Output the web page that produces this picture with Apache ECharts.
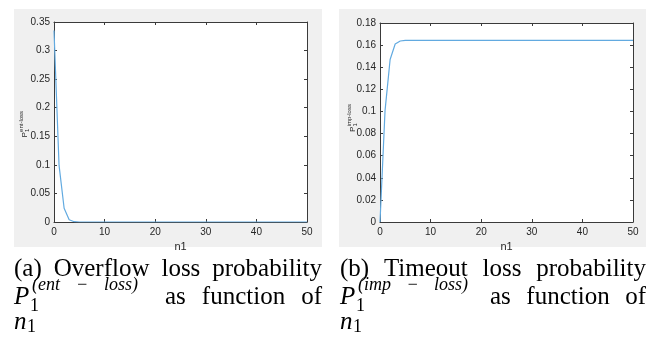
<!DOCTYPE html>
<html lang="en">
<head>
<meta charset="UTF-8">
<title>Loss probability</title>
<script src="https://cdn.jsdelivr.net/npm/echarts@6/dist/echarts.min.js"></script>
<style>
    *{margin:0;padding:0;}
    html,body{width:100%;height:100%;overflow:hidden;background:#fff;}
    .container{width:646px;height:338px;}
</style>
</head>
<body>
<div class="container"></div>
<script>
    // n1 = 0..50
    let n1 = [0,1,2,3,4,5,6,7,8,9,10,11,12,13,14,15,16,17,18,19,20,21,22,23,24,25,
              26,27,28,29,30,31,32,33,34,35,36,37,38,39,40,41,42,43,44,45,46,47,48,49,50];
    // overflow loss P1^(ent-loss)
    let entLoss = [0.335,0.099,0.024,0.004,0.0005,0,0,0,0,0,0,0,0,0,0,0,0,0,0,0,0,0,0,0,0,0,
                   0,0,0,0,0,0,0,0,0,0,0,0,0,0,0,0,0,0,0,0,0,0,0,0,0];
    // timeout loss P1^(imp-loss)
    let impLoss = [0,0.101,0.147,0.161,0.1637,0.1642,0.1643,0.1643,0.1643,0.1643,0.1643,0.1643,0.1643,
                   0.1643,0.1643,0.1643,0.1643,0.1643,0.1643,0.1643,0.1643,0.1643,0.1643,0.1643,0.1643,0.1643,
                   0.1643,0.1643,0.1643,0.1643,0.1643,0.1643,0.1643,0.1643,0.1643,0.1643,0.1643,0.1643,0.1643,
                   0.1643,0.1643,0.1643,0.1643,0.1643,0.1643,0.1643,0.1643,0.1643,0.1643,0.1643,0.1643];
    let xTicks = [0,10,20,30,40,50];
    let yTicksA = [0,0.05,0.1,0.15,0.2,0.25,0.3,0.35];
    let yTicksB = [0,0.02,0.04,0.06,0.08,0.1,0.12,0.14,0.16,0.18];

    window.onload = function () {
        let container = document.querySelector('.container');
        let chart = echarts.init(container, null, {renderer: 'canvas'});

        const axisColor = '#3a3a3a';
        const lineColor = '#62aae0';
        const serif = "'Liberation Serif', 'Times New Roman', serif";

        let ctx = document.createElement('canvas').getContext('2d');
        function measure(text, size, style) {
            ctx.font = (style || 'normal') + ' ' + size + 'px ' + serif;
            return ctx.measureText(text).width;
        }
        function txt(text, x, y, size, style, align) {
            return {
                type: 'text', x: x, y: y, z: 10,
                style: {
                    text: text, fill: '#000',
                    fontSize: size, fontFamily: serif, fontStyle: style || 'normal',
                    align: align || 'left', textAlign: align || 'left',
                    verticalAlign: 'middle', textVerticalAlign: 'middle'
                }
            };
        }
        // spread words between x0 and x1 like justified text
        function justify(words, x0, x1, y, size, style) {
            let widths = words.map(w => measure(w, size, style));
            let total = widths.reduce((a, b) => a + b, 0);
            let gap = (x1 - x0 - total) / (words.length - 1);
            let out = [], x = x0;
            words.forEach((w, i) => {
                out.push(txt(w, x, y, size, style));
                x += widths[i] + gap;
            });
            return out;
        }

        function xAxes(gi) {
            let base = {
                type: 'value', gridIndex: gi,
                min: xTicks[0], max: xTicks[xTicks.length - 1], interval: xTicks[1] - xTicks[0],
                splitLine: {show: false},
                axisLine: {show: true, onZero: false, lineStyle: {color: axisColor, width: 1}},
                axisTick: {show: true, inside: true, length: 3, lineStyle: {color: axisColor}}
            };
            return [
                Object.assign({}, base, {
                    position: 'bottom',
                    axisLabel: {color: '#262626', fontSize: 10, fontFamily: 'Liberation Sans', margin: 5},
                    name: 'n1', nameLocation: 'middle', nameGap: 16,
                    nameTextStyle: {color: '#262626', fontSize: 11, fontFamily: 'Liberation Sans'}
                }),
                Object.assign({}, base, {position: 'top', axisLabel: {show: false}})
            ];
        }
        function yAxes(gi, ticks) {
            let base = {
                type: 'value', gridIndex: gi,
                min: ticks[0], max: ticks[ticks.length - 1], interval: ticks[1] - ticks[0],
                splitLine: {show: false},
                axisLine: {show: true, onZero: false, lineStyle: {color: axisColor, width: 1}},
                axisTick: {show: true, inside: true, length: 3, lineStyle: {color: axisColor}}
            };
            return [
                Object.assign({}, base, {
                    position: 'left',
                    axisLabel: {color: '#262626', fontSize: 10, fontFamily: 'Liberation Sans', margin: 4}
                }),
                Object.assign({}, base, {position: 'right', axisLabel: {show: false}})
            ];
        }

        // rotated y axis name: P with superscript tag and subscript 1
        function yName(x, y, tag) {
            return {
                type: 'group', x: x, y: y, rotation: Math.PI / 2, z: 10,
                children: [
                    {type: 'text', x: 0, y: 0, style: {text: 'P', fill: '#262626', fontSize: 8,
                        fontFamily: 'Liberation Sans', align: 'left', verticalAlign: 'middle'}},
                    {type: 'text', x: 5.6, y: -3, style: {text: tag, fill: '#262626', fontSize: 6,
                        fontFamily: 'Liberation Sans', align: 'left', verticalAlign: 'middle'}},
                    {type: 'text', x: 5.6, y: 3, style: {text: '1', fill: '#262626', fontSize: 6,
                        fontFamily: 'Liberation Sans', align: 'left', verticalAlign: 'middle'}}
                ]
            };
        }

        const fs = 25, fsSmall = 18;
        let graphic = [
            {type: 'rect', shape: {x: 14, y: 9, width: 308, height: 238}, style: {fill: '#f0f0f0'}, z: -1},
            {type: 'rect', shape: {x: 339, y: 9, width: 307, height: 238}, style: {fill: '#f0f0f0'}, z: -1},
            yName(24.5, 137.5, 'ent-loss'),
            yName(352.5, 132, 'imp-loss')
        ];
        // captions
        graphic = graphic.concat(
            justify(['(a)', 'Overflow', 'loss', 'probability'], 14, 322, 269, fs),
            [txt('P', 14, 297, fs, 'italic'), txt('1', 30, 306, fsSmall)],
            justify(['(ent', '\u2212', 'loss)'], 32, 138, 285, fsSmall, 'italic'),
            justify(['as', 'function', 'of'], 165, 322, 297, fs),
            [txt('n', 14, 322, fs, 'italic'), txt('1', 27, 327, fsSmall)],

            justify(['(b)', 'Timeout', 'loss', 'probability'], 340, 646, 269, fs),
            [txt('P', 340, 297, fs, 'italic'), txt('1', 356, 306, fsSmall)],
            justify(['(imp', '\u2212', 'loss)'], 358, 468, 285, fsSmall, 'italic'),
            justify(['as', 'function', 'of'], 490, 646, 297, fs),
            [txt('n', 340, 322, fs, 'italic'), txt('1', 353, 327, fsSmall)]
        );

        let option = {
            animation: false,
            backgroundColor: '#fff',
            grid: [
                {left: 54, top: 22, width: 253, height: 200, show: true, backgroundColor: '#fff', borderWidth: 0},
                {left: 380, top: 23, width: 253, height: 199, show: true, backgroundColor: '#fff', borderWidth: 0}
            ],
            xAxis: xAxes(0).concat(xAxes(1)),
            yAxis: yAxes(0, yTicksA).concat(yAxes(1, yTicksB)),
            series: [
                {
                    type: 'line', xAxisIndex: 0, yAxisIndex: 0,
                    data: n1.map((n, i) => [n, entLoss[i]]),
                    showSymbol: false, lineStyle: {color: lineColor, width: 1.2}
                },
                {
                    type: 'line', xAxisIndex: 2, yAxisIndex: 2,
                    data: n1.map((n, i) => [n, impLoss[i]]),
                    showSymbol: false, lineStyle: {color: lineColor, width: 1.2}
                }
            ],
            graphic: graphic
        };
        chart.setOption(option);
    };
</script>
</body>
</html>
